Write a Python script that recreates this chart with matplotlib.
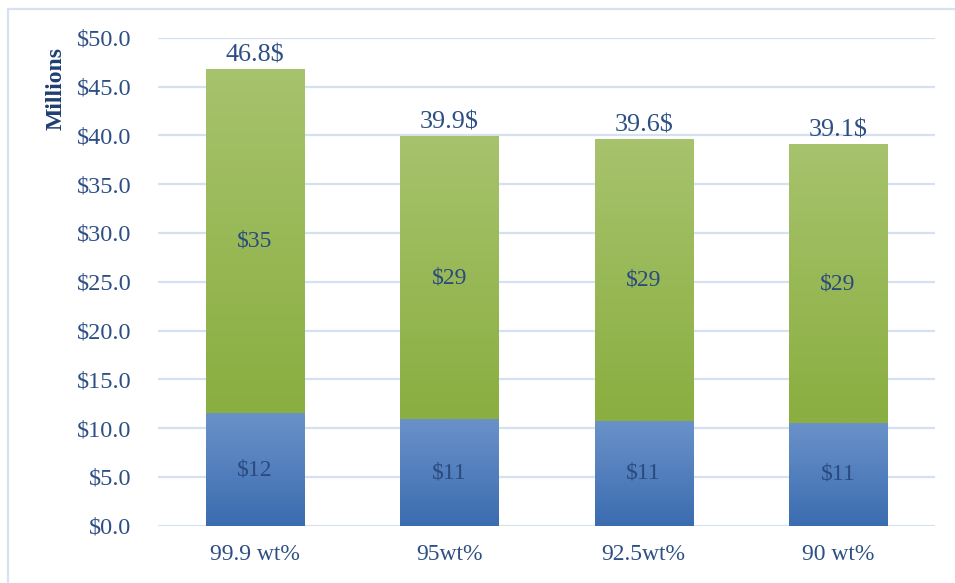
import numpy as np
import matplotlib
matplotlib.use("Agg")
import matplotlib.pyplot as plt
from matplotlib.colors import LinearSegmentedColormap
from matplotlib.patches import Rectangle

# purity cases and cost split (millions of $)
categories = ["99.9 wt%", "95wt%", "92.5wt%", "90 wt%"]
lower_cost = [11.5, 10.9, 10.7, 10.5]
upper_cost = [35.3, 29.0, 28.9, 28.6]
yticks = [0, 5, 10, 15, 20, 25, 30, 35, 40, 45, 50]

txt = "#2d4f84"
grid_c = "#d5e1f1"

plt.rcParams["font.family"] = ["Liberation Serif", "DejaVu Serif"]

W, H = 955, 583
fig = plt.figure(figsize=(W / 100, H / 100), dpi=100)
ax = fig.add_axes([158 / W, 1 - 525.7 / H, (935 - 158) / W, (525.7 - 37.7) / H])

# thin frame round the chart area (top and left visible)
fig.patches.append(Rectangle((8 / W, -0.1), 1.2, 1 - 9 / H + 0.1, transform=fig.transFigure,
                             fill=False, edgecolor="#d7e2f0", linewidth=1.6, zorder=0))

blue = LinearSegmentedColormap.from_list("b", ["#3b6cb0", "#6a92c9"])
green = LinearSegmentedColormap.from_list("g", ["#8aae40", "#a7c36d"])
grad = np.linspace(0, 1, 256).reshape(-1, 1)

x = np.arange(len(categories))
width = 0.505


def money(v):
    # round half up, like a spreadsheet would
    return "$%d" % int(np.floor(v + 0.5))


def gradient_bar(xc, bottom, height, cmap):
    rect = Rectangle((xc - width / 2, bottom), width, height, facecolor="none", edgecolor="none")
    ax.add_patch(rect)
    im = ax.imshow(grad, cmap=cmap, origin="lower", aspect="auto",
                   extent=(xc - width / 2, xc + width / 2, bottom, bottom + height), zorder=2)
    im.set_clip_path(rect)


for i in range(len(categories)):
    lo = lower_cost[i]
    up = upper_cost[i]
    gradient_bar(x[i], 0, lo, blue)
    gradient_bar(x[i], lo, up, green)
    ax.text(x[i], lo / 2, money(lo), ha="center", va="center", fontsize=17, color="#2a4a80", zorder=3)
    ax.text(x[i], lo + up / 2, money(up), ha="center", va="center", fontsize=17, color="#2a4a80", zorder=3)
    ax.text(x[i], lo + up + 0.25, f"{lo + up:.1f}$", ha="center", va="bottom", fontsize=18.8, color=txt, zorder=3)

ax.set_xlim(-0.5, len(categories) - 0.5)
ax.set_ylim(0, 50)
ax.set_yticks(yticks)
ax.set_yticklabels([f"${v:.1f}" for v in yticks], fontsize=17.5, color=txt)
ax.set_xticks(x)
ax.set_xticklabels(categories, fontsize=17, color=txt)
ax.tick_params(length=0, axis="y", pad=19)
ax.tick_params(length=0, axis="x", pad=13)

ax.grid(axis="y", color=grid_c, linewidth=1.6, zorder=0)
ax.set_axisbelow(True)
for s in ax.spines.values():
    s.set_visible(False)

fig.text(56 / W, 1 - 88 / H, "Millions", rotation=90, ha="center", va="center",
         fontsize=17, fontweight="bold", color="#1f3f73")

fig.savefig("out.png", dpi=100)
